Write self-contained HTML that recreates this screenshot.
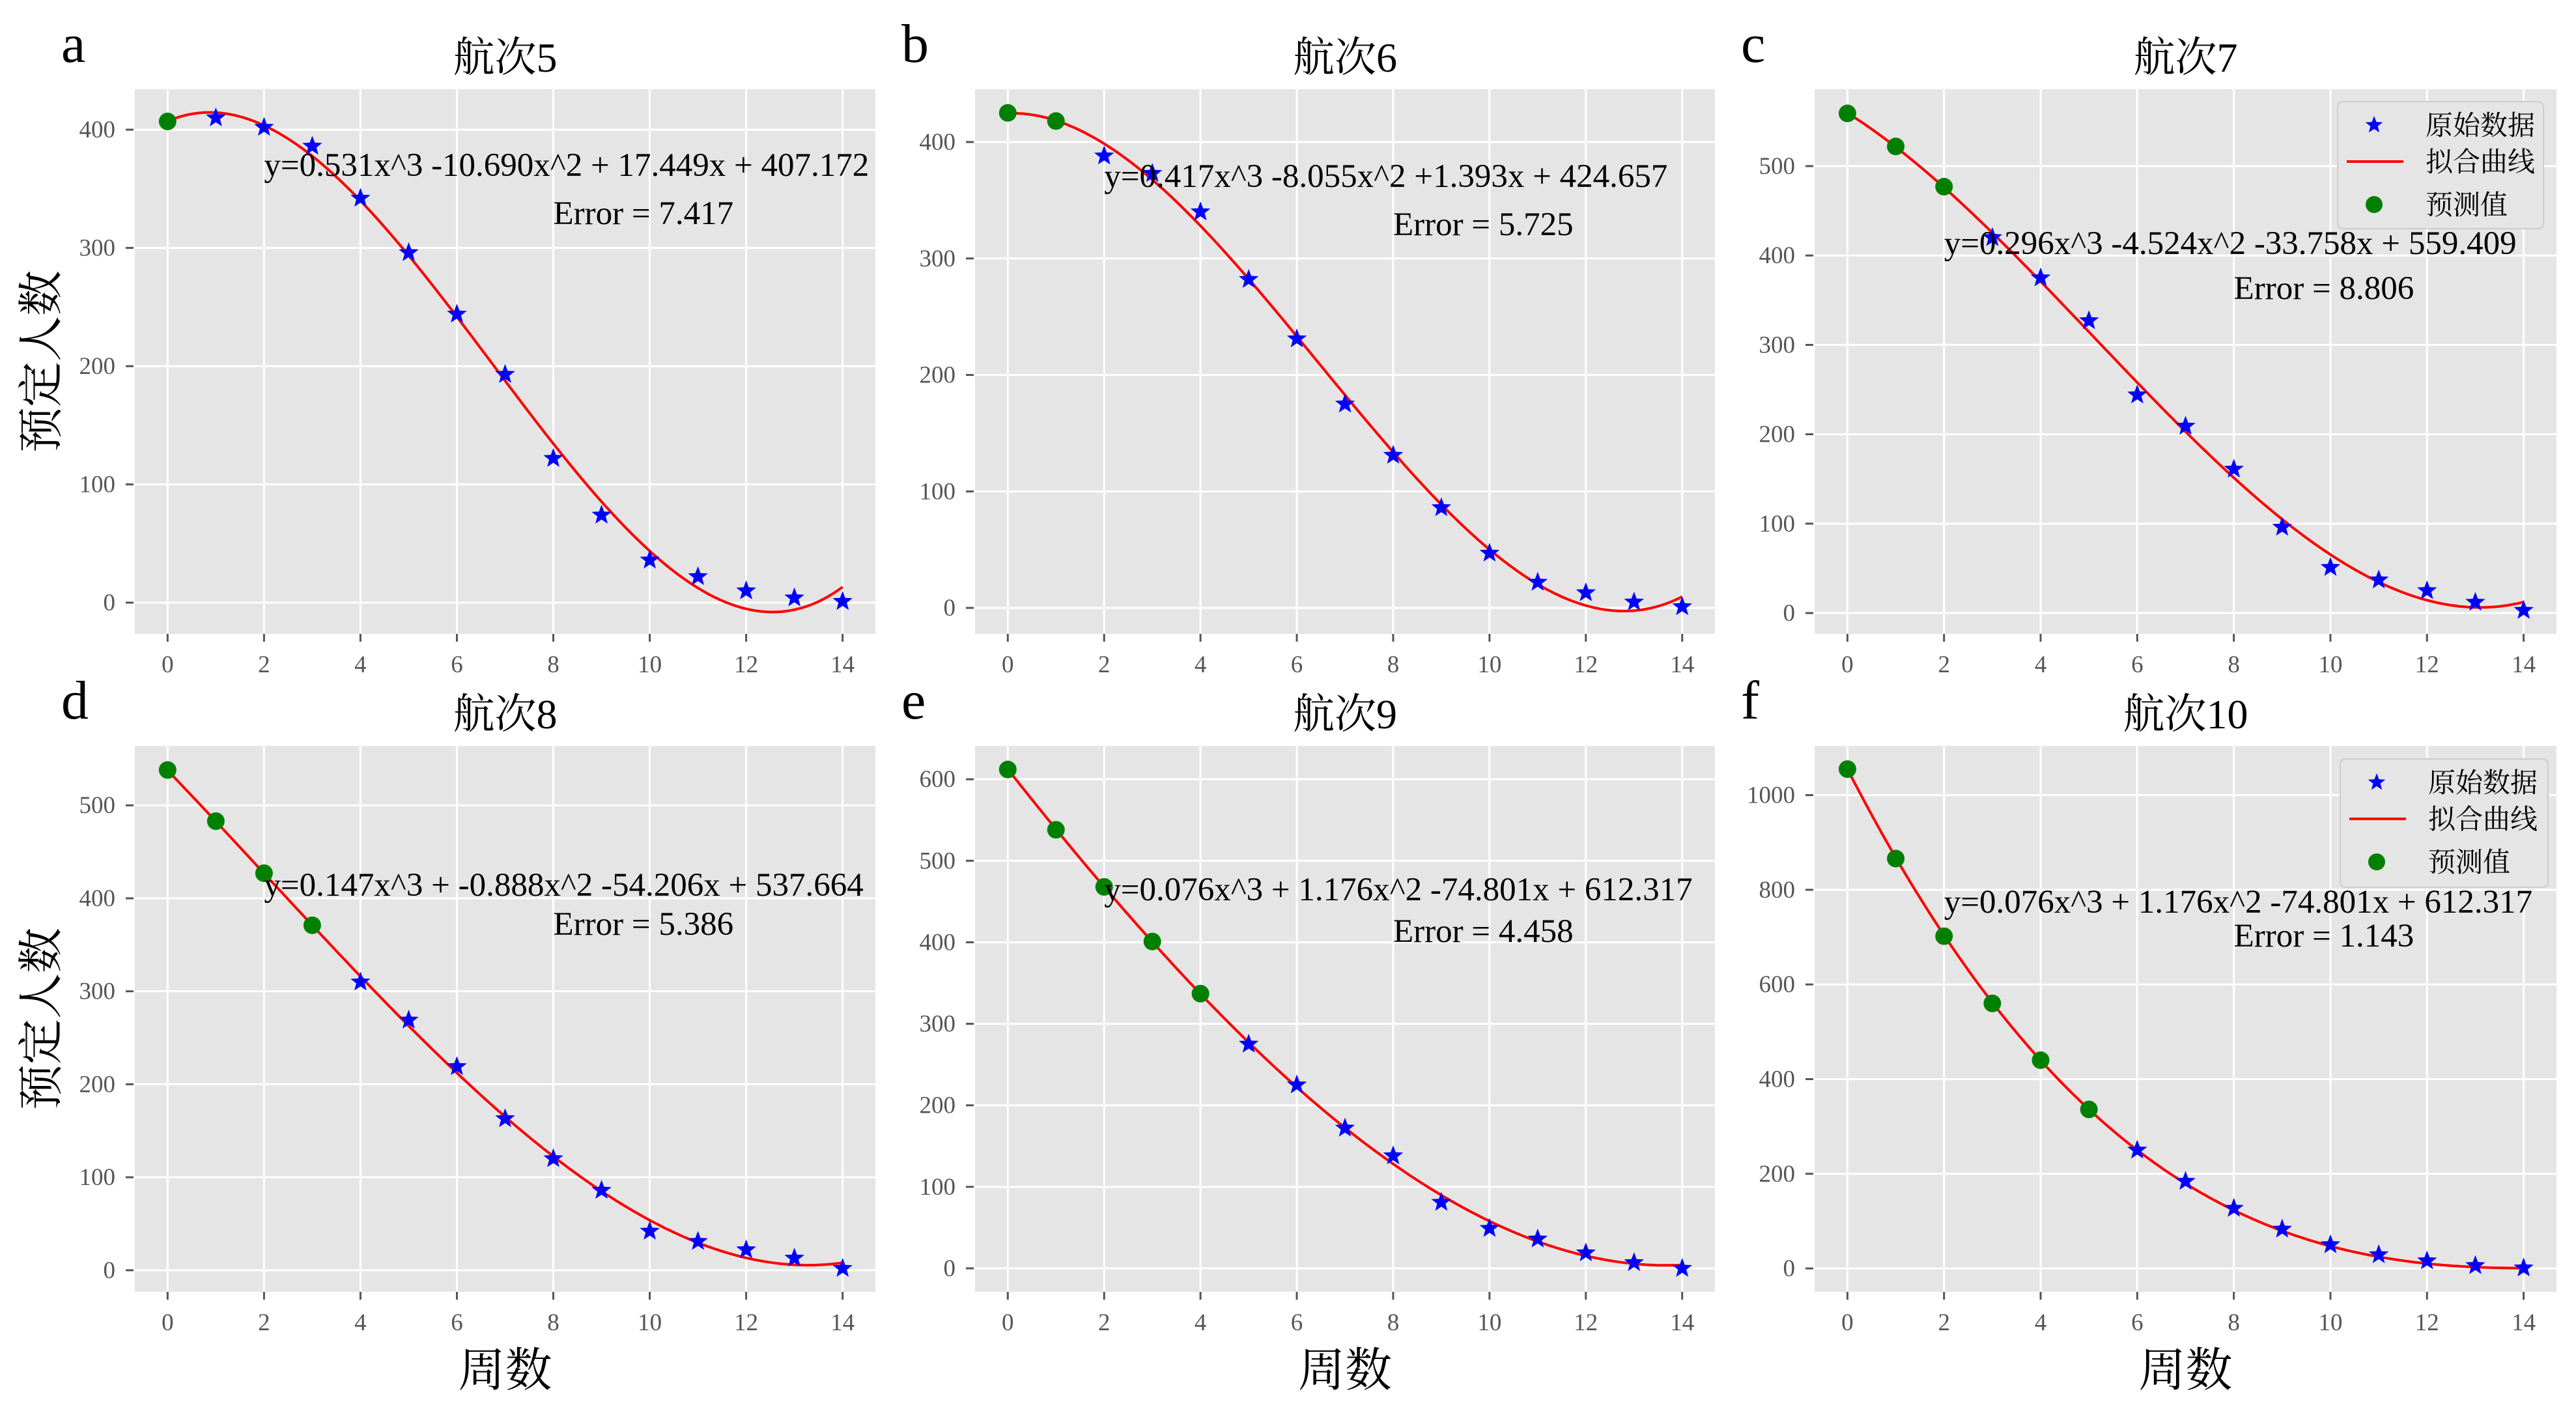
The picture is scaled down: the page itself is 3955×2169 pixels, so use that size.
<!DOCTYPE html>
<html><head><meta charset="utf-8">
<style>
html,body{margin:0;padding:0;background:#fff;}
svg{display:block;}
text{font-family:"Liberation Serif","Noto Serif CJK SC",serif;}
</style></head>
<body>
<svg id="fig" width="3955" height="2169" viewBox="0 0 3955 2169" xmlns="http://www.w3.org/2000/svg"></svg>
<script>
// ---- data ----
const letters = ["a","b","c","d","e","f"];
const titles = ["航次5","航次6","航次7","航次8","航次9","航次10"];
const predX_a = [0];
const predY_a = [407];
const rawX_a = [1,2,3,4,5,6,7,8,9,10,11,12,13,14];
const rawY_a = [410,402,386,342,296,244,193,122,74,36,22,10,4,1];
const coef_a = [407.172,17.449,-10.690,0.531];
const predX_b = [0,1];
const predY_b = [425,418];
const rawX_b = [2,3,4,5,6,7,8,9,10,11,12,13,14];
const rawY_b = [388,373,340,282,231,175,131,86,47,22,13,5,1];
const coef_b = [424.657,1.393,-8.055,0.417];
const predX_c = [0,1,2];
const predY_c = [559,522,477];
const rawX_c = [3,4,5,6,7,8,9,10,11,12,13,14];
const rawY_c = [420,375,327,244,209,161,96,51,37,25,12,3];
const coef_c = [559.409,-33.758,-4.524,0.296];
const predX_d = [0,1,2,3];
const predY_d = [538,483,427,371];
const rawX_d = [4,5,6,7,8,9,10,11,12,13,14];
const rawY_d = [310,269,219,163,120,86,42,31,22,13,2];
const coef_d = [537.664,-54.206,-0.888,0.147];
const predX_e = [0,1,2,3,4];
const predY_e = [612,538,468,401,337];
const rawX_e = [5,6,7,8,9,10,11,12,13,14];
const rawY_e = [275,225,172,138,81,49,36,19,7,0];
const coef_e = [612.317,-74.801,1.176,0.076];
const predX_f = [0,1,2,3,4,5];
const predY_f = [1055,866,702,560,440,336];
const rawX_f = [6,7,8,9,10,11,12,13,14];
const rawY_f = [250,184,127,83,50,29,16,6,1];
const coef_f = [1055.1,-199.1,12.30,-0.247];
const xTicks = [0,2,4,6,8,10,12,14];
const yTicks_a = [0,100,200,300,400];
const yTicks_b = [0,100,200,300,400];
const yTicks_c = [0,100,200,300,400,500];
const yTicks_d = [0,100,200,300,400,500];
const yTicks_e = [0,100,200,300,400,500,600];
const yTicks_f = [0,200,400,600,800,1000];
const yLim_a = [-26.4,434.2];
const yLim_b = [-22.3,445.3];
const yLim_c = [-23.3,586];
const yLim_d = [-23.2,563.9];
const yLim_e = [-28.8,640.9];
const yLim_f = [-49.4,1104];
const eqs = ["y=0.531x^3 -10.690x^2 + 17.449x + 407.172",
  "y=0.417x^3 -8.055x^2 +1.393x + 424.657",
  "y=0.296x^3 -4.524x^2 -33.758x + 559.409",
  "y=0.147x^3 + -0.888x^2 -54.206x + 537.664",
  "y=0.076x^3 + 1.176x^2 -74.801x + 612.317",
  "y=0.076x^3 + 1.176x^2 -74.801x + 612.317"];
const errs = ["Error = 7.417","Error = 5.725","Error = 8.806","Error = 5.386","Error = 4.458","Error = 1.143"];
const legendLabels = ["原始数据","拟合曲线","预测值"];

// ---- layout ----
const NS = "http://www.w3.org/2000/svg";
const svg = document.getElementById("fig");
const colL = [207,1497,2786], colR = [1344,2633,3925];
const rowT = [137,1145], rowB = [973,1983];
const eqBase = [270,287,390,1375,1382,1401];
const errBase = [344,361,459,1435,1446,1453];
const panels = [
 {pX:predX_a,pY:predY_a,rX:rawX_a,rY:rawY_a,c:coef_a,t:yTicks_a,l:yLim_a},
 {pX:predX_b,pY:predY_b,rX:rawX_b,rY:rawY_b,c:coef_b,t:yTicks_b,l:yLim_b},
 {pX:predX_c,pY:predY_c,rX:rawX_c,rY:rawY_c,c:coef_c,t:yTicks_c,l:yLim_c},
 {pX:predX_d,pY:predY_d,rX:rawX_d,rY:rawY_d,c:coef_d,t:yTicks_d,l:yLim_d},
 {pX:predX_e,pY:predY_e,rX:rawX_e,rY:rawY_e,c:coef_e,t:yTicks_e,l:yLim_e},
 {pX:predX_f,pY:predY_f,rX:rawX_f,rY:rawY_f,c:coef_f,t:yTicks_f,l:yLim_f}];

function mk(tag, attrs, parent){
  const e = document.createElementNS(NS, tag);
  for (const k in attrs) e.setAttribute(k, attrs[k]);
  (parent||svg).appendChild(e);
  return e;
}
function starPts(cx, cy, R){
  const r = R*0.42, p=[];
  for(let i=0;i<10;i++){
    const a = -Math.PI/2 + i*Math.PI/5, rr = i%2?r:R;
    p.push((cx+rr*Math.cos(a)).toFixed(1)+","+(cy+rr*Math.sin(a)).toFixed(1));
  }
  return p.join(" ");
}

panels.forEach((P, i) => {
  const col = i%3, row = Math.floor(i/3);
  const L = colL[col], R = colR[col], T = rowT[row], B = rowB[row];
  const xs = v => L + (v - (-0.68)) / (14.68 - (-0.68)) * (R - L);
  const ys = v => B - (v - P.l[0]) / (P.l[1] - P.l[0]) * (B - T);
  const g = mk("g", {});
  
  

  const bg = mk("rect", {x:L, y:T, width:R-L, height:B-T, fill:"#e5e5e5"}, g);
  
  

  xTicks.forEach(v => {
    const x = xs(v);
    const gl = mk("line", {x1:x, x2:x, y1:T, y2:B, stroke:"#fff", "stroke-width":3}, g);
    
    
    mk("line", {x1:x, x2:x, y1:B, y2:B+12, stroke:"#555", "stroke-width":3}, g);
    const tl = mk("text", {x:x, y:B+59, "font-size":37, fill:"#555", "text-anchor":"middle"}, g);
    tl.textContent = v;
    
    
  });
  P.t.forEach(v => {
    const y = ys(v);
    const gl = mk("line", {x1:L, x2:R, y1:y, y2:y, stroke:"#fff", "stroke-width":3}, g);
    
    
    mk("line", {x1:L-14, x2:L-2, y1:y, y2:y, stroke:"#555", "stroke-width":3}, g);
    const tl = mk("text", {x:L-30, y:y+12, "font-size":37, fill:"#555", "text-anchor":"end"}, g);
    tl.textContent = v;
    
    
  });

  let d = "";
  for (let k=0;k<=280;k++){
    const x = 14*k/280;
    const y = P.c[0] + P.c[1]*x + P.c[2]*x*x + P.c[3]*x*x*x;
    d += (k?"L":"M") + xs(x).toFixed(1) + "," + ys(y).toFixed(1);
  }
  const cv = mk("path", {d:d, fill:"none", stroke:"#ff0000", "stroke-width":4}, g);
  
  

  P.rX.forEach((x, k) => {
    const s = mk("polygon", {points:starPts(xs(x), ys(P.rY[k]), 16), fill:"#0000ff"}, g);
    
    
  });
  P.pX.forEach((x, k) => {
    const c = mk("circle", {cx:xs(x), cy:ys(P.pY[k]), r:13.5, fill:"#008000"}, g);
    
    
  });

  const eq = mk("text", {x:xs(2), y:eqBase[i], "font-size":51, fill:"#000"}, g);
  eq.textContent = eqs[i];
  
  
  const er = mk("text", {x:xs(8), y:errBase[i], "font-size":51, fill:"#000"}, g);
  er.textContent = errs[i];
  
  

  const tt = mk("text", {x:(L+R)/2, y:T-27, "font-size":64, fill:"#000", "text-anchor":"middle"}, g);
  tt.textContent = titles[i];
  
  
  const lt = mk("text", {x:L-113, y:T-42, "font-size":84, fill:"#000"}, g);
  lt.textContent = letters[i];
  
  

  if (col === 0) {
    const yl = mk("text", {x:0, y:0, "font-size":70, fill:"#000", "text-anchor":"middle",
      transform:"translate(87," + ((T+B)/2) + ") rotate(-90)"}, g);
    yl.textContent = "预定人数";
    
    
  }
  if (row === 1) {
    const xl = mk("text", {x:(L+R)/2, y:2128, "font-size":72, fill:"#000", "text-anchor":"middle"}, g);
    xl.textContent = "周数";
    
    
  }
  if (col === 2) {
    const lx = row ? 3593 : 3589, ly = row ? 1165 : 156, lw = row ? 319 : 316, lh = row ? 197 : 195;
    const lg = mk("g", {}, g);
    
    
    mk("rect", {x:lx, y:ly, width:lw, height:lh, rx:8, fill:"#e5e5e5", stroke:"#cccccc", "stroke-width":2}, lg);
    const rows = row ? [1201,1257,1323] : [192,248,314];
    const s = mk("polygon", {points:starPts(lx+56, rows[0], 14), fill:"#0000ff"}, lg);
    
    
    const ln = mk("line", {x1:lx+14, x2:lx+101, y1:rows[1], y2:rows[1], stroke:"#ff0000", "stroke-width":4}, lg);
    
    
    const c = mk("circle", {cx:lx+56, cy:rows[2], r:13, fill:"#008000"}, lg);
    
    
    legendLabels.forEach((t, k) => {
      const tx = mk("text", {x:lx+135, y:rows[k]+15, "font-size":42, fill:"#000"}, lg);
      tx.textContent = t;
      
      
    });
  }
});
</script>
</body></html>
